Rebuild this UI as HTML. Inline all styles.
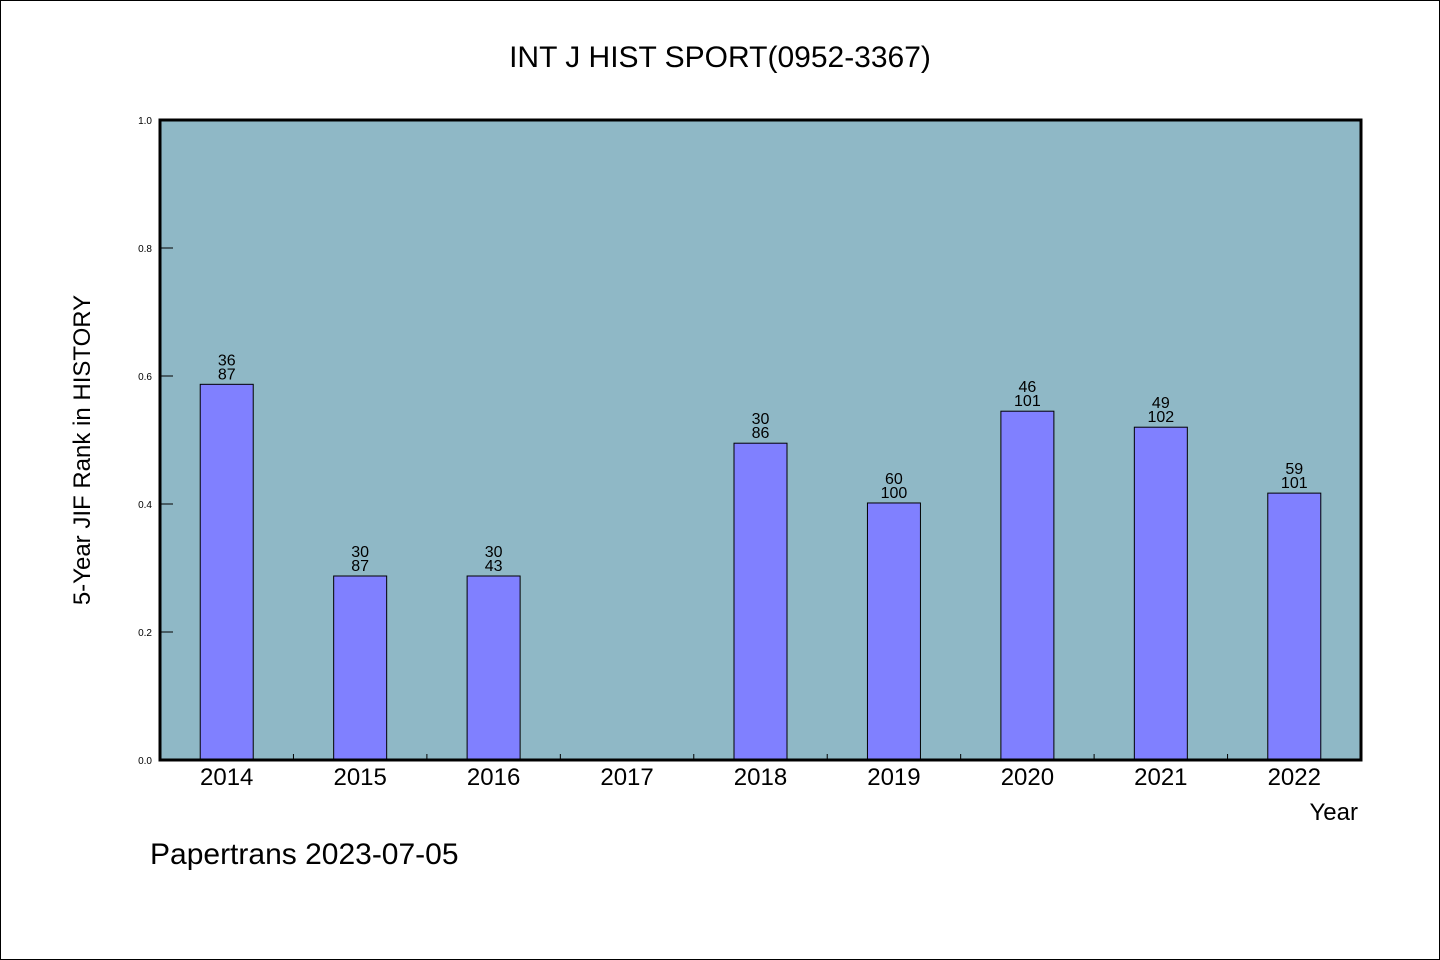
<!DOCTYPE html>
<html><head><meta charset="utf-8"><style>
html,body{margin:0;padding:0;background:#fff}
svg{display:block}
text{font-family:"WenQuanYi Zen Hei","Liberation Sans",sans-serif;fill:#000}
</style></head><body>
<svg id="chart" width="1440" height="960" xmlns="http://www.w3.org/2000/svg">
<rect x="0.5" y="0.5" width="1439" height="959" fill="#fff" stroke="#000"/>
<text x="720" y="67" font-size="30" text-anchor="middle">INT J HIST SPORT(0952-3367)</text>
<rect x="160" y="120" width="1201" height="640" fill="#8fb8c6"/>
<g id="bars"></g>
<g id="axes"></g>
<rect x="160" y="120" width="1201" height="640" fill="none" stroke="#000" stroke-width="3"/>
<text x="1358" y="820" font-size="24" text-anchor="end">Year</text>
<text transform="translate(90,450) rotate(-90)" font-size="24" text-anchor="middle">5-Year JIF Rank in HISTORY</text>
<text x="150" y="864" font-size="30">Papertrans 2023-07-05</text>
</svg>
<script>
const categories=["2014","2015","2016","2017","2018","2019","2020","2021","2022"];
const values=[0.587,0.2875,0.2875,null,0.495,0.4016,0.545,0.520,0.417];
const ranks=["36","30","30","","30","60","46","49","59"];
const totals=["87","87","43","","86","100","101","102","101"];
const yTicks=[0,0.2,0.4,0.6,0.8,1.0];
const yTickLabels=["0.0","0.2","0.4","0.6","0.8","1.0"];
const NS="http://www.w3.org/2000/svg";
const X0=160,X1=1361,Y0=760,Y1=120;
const step=(X1-X0)/categories.length;
const xC=i=>X0+step*(i+0.5);
const yS=v=>Y0-(v)*(Y0-Y1);
function mk(t,a,p){const e=document.createElementNS(NS,t);for(const k in a)e.setAttribute(k,a[k]);p.appendChild(e);return e;}
const bars=document.getElementById('bars'),axes=document.getElementById('axes');
const bw=53;
categories.forEach((c,i)=>{
  const v=values[i];
  if(v!=null){
    const r=mk('rect',{x:xC(i)-bw/2,y:yS(v),width:bw,height:Y0-yS(v),fill:'#8080ff',stroke:'#000','stroke-width':1},bars);
    
    
    const t1=mk('text',{x:xC(i),y:yS(v)-19,'font-size':16,'text-anchor':'middle'},bars);t1.textContent=ranks[i];
    
    
    const t2=mk('text',{x:xC(i),y:yS(v)-5,'font-size':16,'text-anchor':'middle'},bars);t2.textContent=totals[i];
    
    
  }
  const xl=mk('text',{x:xC(i),y:785,'font-size':24,'text-anchor':'middle'},axes);xl.textContent=c;
  
  
  if(i>0){const tk=mk('line',{x1:X0+step*i,x2:X0+step*i,y1:Y0,y2:Y0-6,stroke:'#000','stroke-width':1},axes);
    
    }
});
yTicks.forEach((v,i)=>{
  const tk=mk('line',{x1:X0,x2:X0+13,y1:yS(v),y2:yS(v),stroke:'#000','stroke-width':1},axes);
  
  
  const t=mk('text',{x:152,y:yS(v)+4,'font-size':10,'text-anchor':'end'},axes);t.textContent=yTickLabels[i];
  
  
});
</script>
</body></html>
